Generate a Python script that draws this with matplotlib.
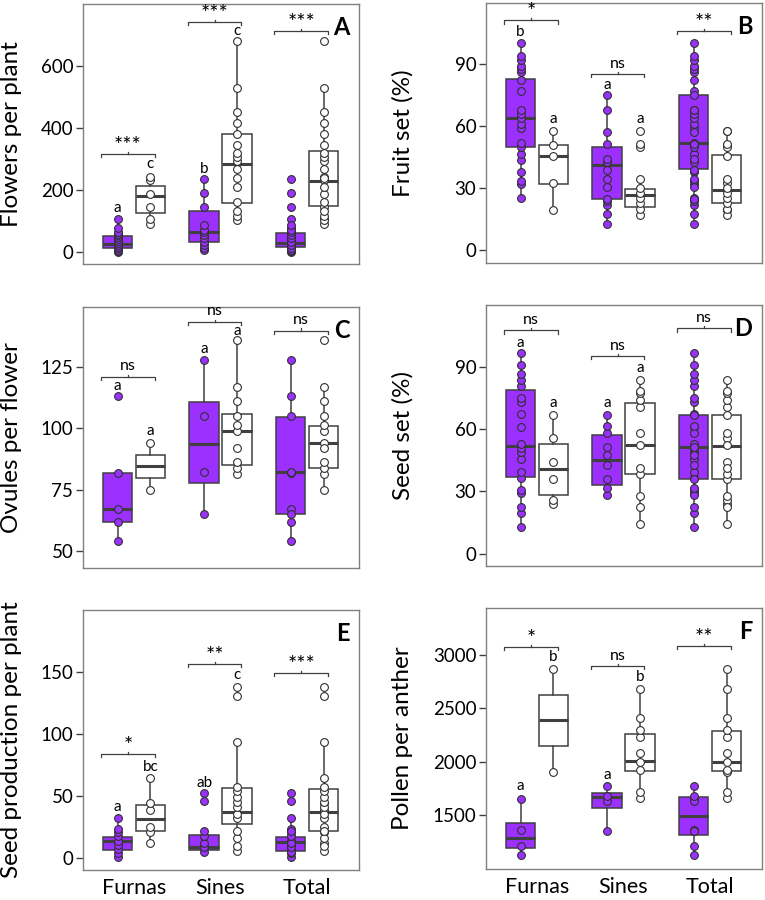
import matplotlib
matplotlib.use("Agg")
import matplotlib.pyplot as plt

plt.rcParams['font.family'] = ['Lato', 'DejaVu Sans']

groups = ["Furnas", "Sines", "Total"]
purple = "#9B30FF"

# ---- A: flowers per plant
A_fur_p = [0, 3, 8, 13, 18, 24, 30, 35, 42, 48, 55, 60, 64, 79, 107]
A_fur_w = [91, 107, 146, 186, 232, 243]
A_sin_p = [8, 15, 22, 34, 45, 55, 64, 72, 86, 144, 189, 234]
A_sin_w = [102, 117, 133, 161, 210, 238, 266, 294, 306, 319, 346, 381, 416, 450, 529, 679]
# box: whislo, q1, median, q3, whishi  (Furnas p/w, Sines p/w, Total p/w)
A_box = [[0, 13, 26, 51, 107], [91, 126, 182, 213, 243],
         [8, 34, 64, 131, 234], [102, 159, 283, 381, 679],
         [0, 17, 31, 63, 107], [91, 150, 229, 326, 529]]
A_let = ["a", "c", "b", "c"]
A_let_y = [141, 283, 268, 711]
A_sig = ["***", "***", "***"]
A_sig_y = [317, 740, 711]

# ---- B: fruit set
B_fur_p = [25.5, 32, 33.7, 37.7, 43.6, 46.5, 50, 52, 59, 61, 64, 66, 67.7, 77, 82, 86, 87.6, 89, 92, 93.7, 100]
B_fur_w = [19.6, 32.4, 45.4, 51, 57.8]
B_sin_p = [12.8, 17.6, 21.7, 23.6, 24.7, 30.5, 34.3, 38.8, 42.7, 44, 51.5, 57.3, 67.7, 75]
B_sin_w = [17.2, 19.9, 22.8, 25.3, 27.9, 30.3, 34.6, 50, 51.3, 57.8]
B_box = [[25.5, 50, 63.7, 82.8, 100], [19.6, 32, 45.4, 51, 57.8],
         [12.8, 24.7, 41.4, 49.9, 75], [17.2, 20.9, 26.6, 29.8, 34.6],
         [12.8, 39.1, 51.7, 74.9, 100], [17.2, 22.8, 28.9, 46.2, 57.8]]
B_let = ["b", "a", "a", "a"]
B_let_y = [105.4, 63.2, 79.7, 63.2]
B_sig = ["*", "ns", "**"]
B_sig_y = [111, 85, 105.9]

# ---- C: ovules per flower
C_fur_p = [54, 61.9, 67, 81.9, 113]
C_fur_w = [75, 94]
C_sin_p = [65, 82, 105, 128]
C_sin_w = [81.2, 84, 86.4, 92, 98.8, 101.4, 105, 111, 117, 135.9]
C_box = [[54, 61.9, 67, 81.9, 81.9], [75, 79.7, 84.5, 89.1, 94],
         [65, 77.5, 93.4, 110.7, 128], [81.2, 84.9, 99, 106, 135.9],
         [54, 65, 82, 104.8, 128], [75, 84, 94.2, 101, 117]]
C_let = ["a", "a", "a", "a"]
C_let_y = [117.1, 98.7, 132.4, 139.9]
C_sig = ["ns", "ns", "ns"]
C_sig_y = [121, 143.4, 139.9]

# ---- D: seed set
D_fur_p = [12.6, 19.5, 22.7, 29.1, 30.8, 36.6, 39.5, 45.6, 49, 51, 52.7, 61.2, 67.5, 73.3, 75.2, 81, 83.6, 86.8, 91, 97]
D_fur_w = [24, 25.9, 36.1, 44.3, 55.9, 67.1]
D_sin_p = [28.5, 31.6, 35.9, 43, 47.8, 51.5, 58.1, 61.7, 67.1]
D_sin_w = [14.5, 22.4, 28, 38.2, 41.5, 52.2, 58.3, 70.7, 73.9, 77.3, 78.6, 84]
D_box = [[12.6, 37, 52, 79, 97], [24, 28.3, 40.6, 53, 67.1],
         [28.5, 33.3, 45.1, 57.3, 67.1], [14.5, 38.3, 52.5, 72.5, 84],
         [12.6, 36, 51.5, 67.1, 97], [14.5, 36, 51.9, 67.1, 84]]
D_let = ["a", "a", "a", "a"]
D_let_y = [101.8, 72.5, 72.5, 89.4]
D_sig = ["ns", "ns", "ns"]
D_sig_y = [107.7, 95.3, 108.7]

# ---- E: seed production per plant
E_fur_p = [1.3, 4, 7.8, 10.4, 14.2, 18, 20.9, 23.6, 32.4]
E_fur_w = [12.6, 21.4, 24.9, 38.8, 44.5, 64.6]
E_sin_p = [5.1, 8.8, 12, 18, 22.2, 46.3, 52.2]
E_sin_w = [5.6, 10.2, 16.1, 22.2, 32.1, 35.6, 41, 45, 49, 54.4, 57.6, 93.8, 130.7, 137.4]
E_box = [[1.3, 6.7, 14.2, 17.1, 32.4], [12.6, 22, 31.9, 42.9, 64.6],
         [5.1, 6.7, 8.8, 19, 22.2], [5.6, 27.3, 37.5, 56.5, 93.8],
         [1.3, 6.2, 13.1, 17.1, 32.4], [5.6, 22, 37.5, 55.7, 93.8]]
E_let = ["a", "bc", "ab", "c"]
E_let_y = [41, 73.7, 60.3, 147.3]
E_sig = ["*", "**", "***"]
E_sig_y = [83.6, 155.9, 148.7]

# ---- F: pollen per anther
F_fur_p = [1127, 1217, 1360, 1656]
F_fur_w = [1908, 2866]
F_sin_p = [1354, 1634, 1677, 1771]
F_sin_w = [1665, 1721, 1920, 1995, 2082, 2231, 2294, 2409, 2680]
F_box = [[1127, 1195, 1288, 1432, 1656], [1908, 2147, 2387, 2620, 2866],
         [1354, 1565, 1668, 1709, 1771], [1665, 1911, 2010, 2256, 2680],
         [1127, 1319, 1497, 1668, 1771], [1665, 1911, 2001, 2290, 2866]]
F_let = ["a", "b", "a", "b"]
F_let_y = [1771, 2975, 1880, 2792]
F_sig = ["*", "ns", "**"]
F_sig_y = [3072, 2894, 3078]

panels = [
    ("A", "Flowers per plant", A_fur_p, A_fur_w, A_sin_p, A_sin_w, A_box, A_let, A_let_y, A_sig, A_sig_y,
     (-38, 798), [0, 200, 400, 600]),
    ("B", "Fruit set (%)", B_fur_p, B_fur_w, B_sin_p, B_sin_w, B_box, B_let, B_let_y, B_sig, B_sig_y,
     (-6.1, 119.4), [0, 30, 60, 90]),
    ("C", "Ovules per flower", C_fur_p, C_fur_w, C_sin_p, C_sin_w, C_box, C_let, C_let_y, C_sig, C_sig_y,
     (43, 149.5), [50, 75, 100, 125]),
    ("D", "Seed set (%)", D_fur_p, D_fur_w, D_sin_p, D_sin_w, D_box, D_let, D_let_y, D_sig, D_sig_y,
     (-6, 120), [0, 30, 60, 90]),
    ("E", "Seed production per plant", E_fur_p, E_fur_w, E_sin_p, E_sin_w, E_box, E_let, E_let_y, E_sig, E_sig_y,
     (-9.4, 199.6), [0, 50, 100, 150]),
    ("F", "Pollen per anther", F_fur_p, F_fur_w, F_sin_p, F_sin_w, F_box, F_let, F_let_y, F_sig, F_sig_y,
     (999, 3436), [1500, 2000, 2500, 3000]),
]

# axes rectangles in pixels (left, top, right, bottom)
rects = [(83, 4, 359, 264), (486, 3, 762, 263),
         (83, 307, 359, 568), (486, 305, 762, 566),
         (83, 610, 359, 870), (486, 608, 762, 869)]

W, H = 765, 900
fig = plt.figure(figsize=(W / 100, H / 100), dpi=100)

off = 0.19
centers = [1, 2, 3]
pos = []
for c in centers:
    pos += [c - off, c + off]

for i, (p, rect) in enumerate(zip(panels, rects)):
    (letter, ylab, fp, fw, sp, sw, box, lets, lets_y, sig, sig_y, ylim, yticks) = p
    l, t, r, b = rect
    ax = fig.add_axes([l / W, 1 - b / H, (r - l) / W, (b - t) / H])

    pts = [fp, fw, sp, sw, fp + sp, fw + sw]
    stats = [dict(whislo=s[0], q1=s[1], med=s[2], q3=s[3], whishi=s[4]) for s in box]
    bp = ax.bxp(stats, positions=pos, widths=0.34, showfliers=False, showcaps=False,
                patch_artist=True,
                boxprops=dict(edgecolor="#404040", linewidth=1.1),
                whiskerprops=dict(color="#404040", linewidth=1.1),
                medianprops=dict(color="#404040", linewidth=2.2, solid_capstyle="butt"))
    for k, patch in enumerate(bp["boxes"]):
        patch.set_facecolor(purple if k % 2 == 0 else "white")

    for k, vals in enumerate(pts):
        fc = purple if k % 2 == 0 else "white"
        ax.plot([pos[k]] * len(vals), vals, "o", ms=5.6, mfc=fc, mec="#303030", mew=0.8,
                zorder=4, clip_on=False)

    for k, (tx, ty) in enumerate(zip(lets, lets_y)):
        ax.text(pos[k], ty, tx, ha="center", va="center", fontsize=11, zorder=5)

    span = ylim[1] - ylim[0]
    dn = span * 0.012
    up = span * 0.008
    for g, s, y in zip(centers, sig, sig_y):
        x0, x1, xm = g - 0.38, g + 0.24, g - 0.07
        ax.plot([x0, x0, x1, x1], [y - dn, y, y, y - dn], color="#404040", lw=0.9)
        ax.plot([xm, xm], [y, y + up], color="#404040", lw=0.9)
        fs = 15.5 if "*" in s else 11.5
        dy = -1.5 if "*" in s else 2.5
        ax.annotate(s, (xm, y), xytext=(0, dy), textcoords="offset points",
                    ha="center", va="bottom", fontsize=fs)

    ax.text(0.965, 0.91, letter, transform=ax.transAxes, ha="right", va="center",
            fontsize=17, fontweight="bold")

    ax.set_xlim(0.41, 3.6)
    ax.set_ylim(*ylim)
    ax.set_yticks(yticks)
    ax.set_yticklabels([str(v) for v in yticks])
    for sp_ in ax.spines.values():
        sp_.set_color("#808080")
        sp_.set_linewidth(1.0)
    ax.tick_params(axis="y", direction="out", length=5, width=1, color="#404040",
                   labelsize=13.5, pad=2)
    if i >= 4:
        ax.set_xticks(centers)
        ax.set_xticklabels(groups)
        ax.tick_params(axis="x", length=0, labelsize=15.5, pad=6)
    else:
        ax.set_xticks([])
    ax.set_ylabel(ylab, fontsize=17.5)
    ax.yaxis.set_label_coords(-0.221 if i % 2 == 0 else -0.264, 0.5)

fig.savefig("out.png", dpi=100)
